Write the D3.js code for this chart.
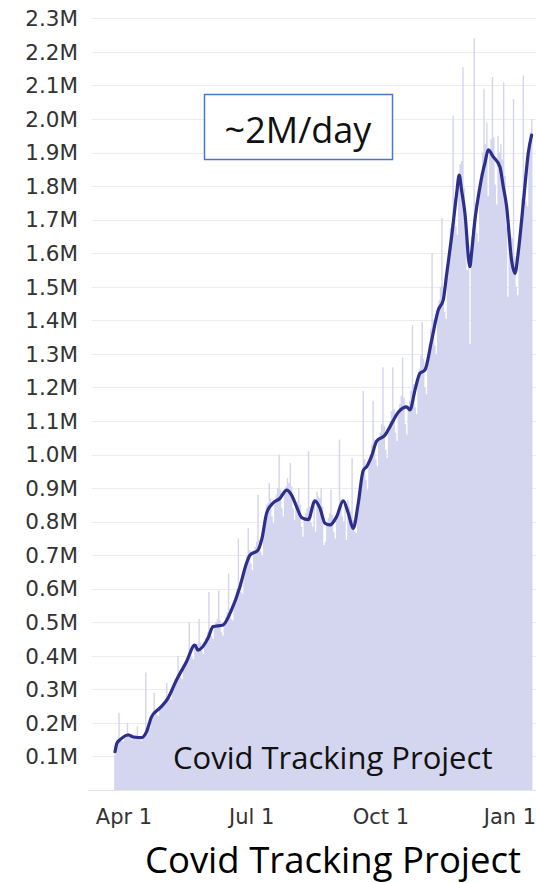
<!DOCTYPE html>
<html>
<head>
<meta charset="utf-8">
<script src="https://cdn.jsdelivr.net/npm/d3@7"></script>
<style>
  html, body { margin: 0; padding: 0; background: #ffffff; overflow: hidden; }
  svg { display: block; }
</style>
</head>
<body>
<svg id="chart" width="536" height="883"></svg>
<script>
// ---------------- DATA ----------------
// Daily tests (thousands), one per day starting 2020-03-25
const dailyStart = "2020-03-25";
const dailyK = [
  105,120,140,230,155,145,145,
  155,160,200,170,155,150,160,
  160,165,190,160,150,145,160,
  165,350,180,180,185,210,225,
  290,235,225,220,240,250,260,
  265,270,320,280,270,270,300,
  315,330,335,400,350,335,330,
  365,375,395,400,500,415,395,
  390,430,435,435,510,440,415,
  405,440,455,470,590,480,460,
  450,490,500,510,595,505,470,
  460,495,515,530,645,540,510,
  505,555,575,600,750,620,590,
  585,645,670,700,780,715,675,
  655,705,725,740,880,745,710,
  700,770,810,850,855,915,870,
  815,795,860,880,900,1000,895,
  840,815,885,905,930,915,975,
  905,840,805,855,860,900,850,
  785,755,810,825,840,1010,845,
  795,785,855,770,890,875,870,
  900,845,730,740,795,810,825,
  895,820,770,750,815,835,1045,
  865,815,800,855,745,865,845,
  830,990,805,770,765,840,880,
  925,945,1190,985,925,895,975,
  1000,1030,1160,1045,985,965,1045,
  1065,1090,1260,1085,1015,990,1070,
  1100,1130,1260,1135,1065,1040,1125,
  1150,1175,1290,1170,1090,1060,1140,
  1160,1190,1385,1210,1140,1120,1215,
  1255,1295,1395,1285,1200,1180,1285,
  1330,1375,1600,1400,1325,1300,1415,
  1460,1500,1705,1500,1425,1405,1545,
  1610,1675,1690,2010,1765,1680,1655,
  1810,1865,1875,2155,1795,1645,1550,
  1625,1330,1650,1675,2240,1750,1660,
  1635,1780,1840,1900,2090,1925,1990,
  1770,1905,1940,2125,1945,1805,1745,
  1950,1900,1925,1880,2110,1830,1680,
  1470,1665,1655,1645,2060,1590,1500,
  1475,1615,1690,1765,2130,1835,1755,
  1740,1900,1960,2000
];

// 7-day average line: day offset from 2020-04-01 and value (thousands)
const avgOrigin = "2020-04-01";
const avgDay = [-6.4,-5,-2.8,3.1,6.6,12.6,16.1,19.6,25.5,31.4,37.4,44.5,50.4,52.7,59.9,63.4,70.6,76.6,
  82.6,86.8,89.7,95.4,98.3,101.6,106,111,115.9,119.4,123,126.6,131.3,136,139.6,143.2,146.7,151.5,
  156.2,159.8,163.3,166.9,170.4,172.9,176.4,180,186,189.5,195.4,201.4,203.7,207.3,210.8,214.4,
  219.2,223.9,227.4,229.8,233.4,237,238.8,240.5,242.9,246.4,247.6,250,252.4,255.9,257.1,259.5,
  263,267.8,270.2,272.6,276.1,278.5,280.8,283.3,285.6,288,290.4];
const avgK = [114,140,150,164,158,156,174,218,244,274,328,382,432,417,453,487,492,537,
  606,670,700,715,750,825,855,869,894,879,844,812,806,862,840,795,790,815,
  862,825,780,855,952,964,995,1040,1058,1083,1126,1142,1133,1192,1242,1252,
  1341,1431,1460,1535,1649,1778,1833,1788,1719,1560,1600,1699,1768,1848,1868,1908,
  1888,1858,1799,1739,1580,1540,1600,1699,1799,1898,1952];

// Axis ticks
const yTickM = [0.1,0.2,0.3,0.4,0.5,0.6,0.7,0.8,0.9,1.0,1.1,1.2,1.3,1.4,1.5,1.6,1.7,1.8,1.9,2.0,2.1,2.2,2.3];
const xTickDates = ["2020-04-01","2020-07-01","2020-10-01","2021-01-01"];
const xTickLabels = ["Apr 1","Jul 1","Oct 1","Jan 1"];

const boxLabel = "~2M/day";
const innerLabel = "Covid Tracking Project";
const caption = "Covid Tracking Project";

// ---------------- DRAW ----------------
const svg = d3.select("#chart");
const parse = d3.utcParse("%Y-%m-%d");
const DAY = 864e5;

const x = d3.scaleUtc()
  .domain([parse("2020-04-01"), parse("2021-01-01")])
  .range([124, 510]);
const y = d3.scaleLinear().domain([0, 2.3]).range([790, 18.4]);

// gridlines
svg.append("g").selectAll("line").data(yTickM).join("line")
  .attr("x1", 92).attr("x2", 536)
  .attr("y1", d => Math.round(y(d)) + 0.5).attr("y2", d => Math.round(y(d)) + 0.5)
  .attr("stroke", "#ececec").attr("stroke-width", 1);
svg.append("line")
  .attr("x1", 88).attr("x2", 536).attr("y1", y(0) + 0.5).attr("y2", y(0) + 0.5)
  .attr("stroke", "#e4e4e4");

// daily bars as a step area
const t0 = parse(dailyStart).getTime();
const dailyPts = dailyK.map((v, i) => ({ t: new Date(t0 + i * DAY), v: v / 1000 }));
dailyPts.push({ t: new Date(t0 + dailyK.length * DAY), v: dailyK[dailyK.length - 1] / 1000 });

svg.append("path")
  .datum(dailyPts)
  .attr("fill", "#d4d5ee")
  .attr("d", d3.area().curve(d3.curveStepAfter)
    .x(d => x(d.t)).y0(y(0)).y1(d => y(d.v)));

// 7-day average line
const a0 = parse(avgOrigin).getTime();
const avgPts = avgDay.map((d, i) => ({ t: new Date(a0 + d * DAY), v: avgK[i] / 1000 }));
svg.append("path")
  .datum(avgPts)
  .attr("fill", "none")
  .attr("stroke", "#2d2f8c")
  .attr("stroke-width", 3.2)
  .attr("stroke-linejoin", "round")
  .attr("stroke-linecap", "round")
  .attr("d", d3.line().curve(d3.curveMonotoneX).x(d => x(d.t)).y(d => y(d.v)));

// y axis labels
svg.append("g").selectAll("text").data(yTickM).join("text")
  .attr("x", 78).attr("y", d => y(d))
  .attr("dy", "0.36em")
  .attr("text-anchor", "end")
  .attr("font-family", "DejaVu Sans, sans-serif")
  .attr("font-size", 21.5)
  .attr("fill", "#333")
  .text(d => d3.format(".1f")(d) + "M");

// x axis labels
svg.append("g").selectAll("text").data(xTickDates).join("text")
  .attr("x", d => x(parse(d))).attr("y", 824)
  .attr("text-anchor", "middle")
  .attr("font-family", "DejaVu Sans, sans-serif")
  .attr("font-size", 21)
  .attr("fill", "#333")
  .text((d, i) => xTickLabels[i]);

// annotation box
svg.append("rect")
  .attr("x", 204.5).attr("y", 94.5).attr("width", 188).attr("height", 65)
  .attr("fill", "#ffffff").attr("stroke", "#4a78c8").attr("stroke-width", 1.5);
svg.append("text")
  .attr("x", 298).attr("y", 143)
  .attr("text-anchor", "middle")
  .attr("font-family", "Open Sans, sans-serif")
  .attr("font-size", 36)
  .attr("fill", "#111")
  .text(boxLabel);

// inner label
svg.append("text")
  .attr("x", 173).attr("y", 769)
  .attr("font-family", "Open Sans, sans-serif")
  .attr("font-size", 31)
  .attr("fill", "#111")
  .text(innerLabel);

// caption
svg.append("text")
  .attr("x", 333).attr("y", 873)
  .attr("text-anchor", "middle")
  .attr("font-family", "Open Sans, sans-serif")
  .attr("font-size", 36.5)
  .attr("fill", "#000")
  .text(caption);
</script>
</body>
</html>
